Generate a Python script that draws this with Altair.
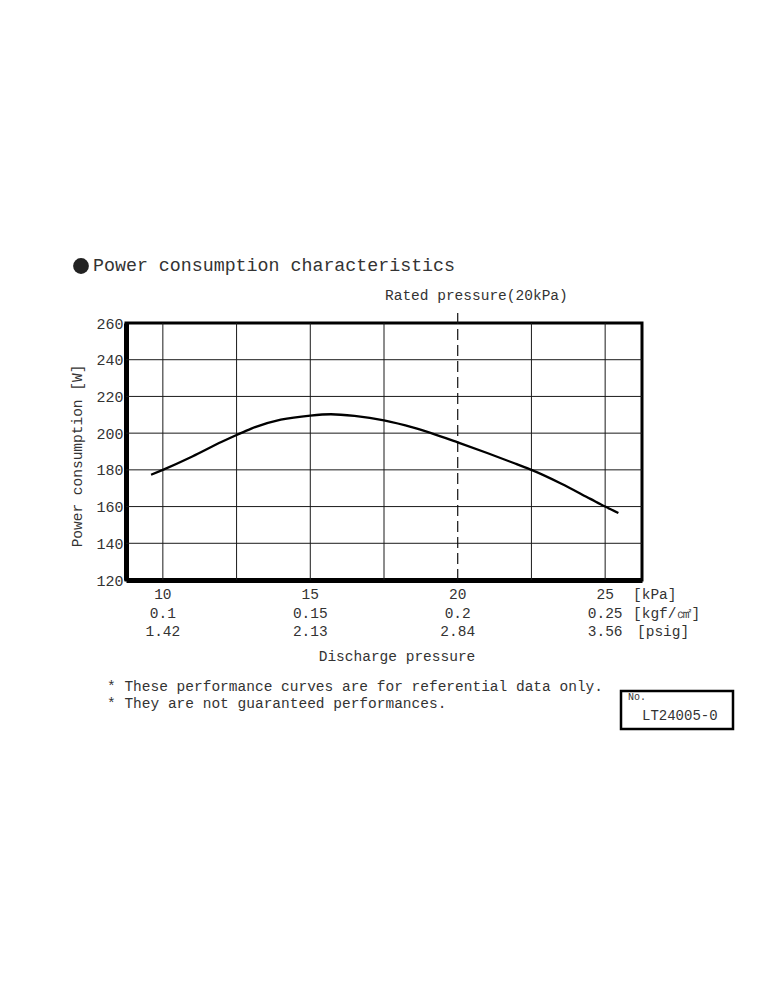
import altair as alt
import pandas as pd

# ---- data ----
pressure_kpa = [9.6, 10.0, 11.0, 12.0, 12.5, 13.0, 14.0, 15.0, 15.7, 16.5, 17.5, 18.5, 19.1, 20.0, 21.0, 22.0, 22.5, 23.5, 24.5, 25.0, 25.45]
power_w = [177.3, 180.0, 187.3, 195.3, 199.0, 202.5, 207.3, 209.6, 210.3, 209.4, 207.0, 203.0, 200.0, 195.0, 189.2, 183.1, 180.0, 172.6, 164.2, 160.0, 156.5]

x_grid = [10, 12.5, 15, 17.5, 22.5, 25]
y_grid = [140, 160, 180, 200, 220, 240]
y_ticks = [120, 140, 160, 180, 200, 220, 240, 260]
rated_kpa = [20]

kpa_labels = [10, 15, 20, 25]
kgf_labels = ["0.1", "0.15", "0.2", "0.25"]
psig_labels = ["1.42", "2.13", "2.84", "3.56"]
unit_labels = ["[kPa]", "[kgf/㎠]", "[psig]"]

FONT = "Liberation Mono"
TXT = "#333333"
W, H = 516, 257

xs = alt.Scale(domain=[8.75, 26.25], nice=False, zero=False)
ys = alt.Scale(domain=[120, 260], nice=False, zero=False)

curve_df = pd.DataFrame({"kpa": pressure_kpa, "w": power_w})
xg_df = pd.DataFrame({"kpa": x_grid})
yg_df = pd.DataFrame({"w": y_grid})
rated_df = pd.DataFrame({"kpa": rated_kpa})
rows_df = pd.DataFrame({
    "kpa": kpa_labels,
    "r1": [str(v) for v in kpa_labels],
    "r2": kgf_labels,
    "r3": psig_labels,
})

x_axis = alt.Axis(labels=False, ticks=False, grid=False, title=None, domainColor="black", domainWidth=5)
y_axis = alt.Axis(values=y_ticks, ticks=False, grid=False, title=None,
                  labelFont=FONT, labelFontSize=15, labelColor=TXT,
                  labelOverlap=False, labelFlush=False, labelBound=False,
                  labelPadding=3, domainColor="black", domainWidth=5)

hgrid = alt.Chart(yg_df).mark_rule(color="#1a1a1a", strokeWidth=1).encode(
    y=alt.Y("w:Q", scale=ys, axis=y_axis)
)
vgrid = alt.Chart(xg_df).mark_rule(color="#1a1a1a", strokeWidth=1).encode(
    x=alt.X("kpa:Q", scale=xs, axis=x_axis)
)
rated = alt.Chart(rated_df).mark_rule(color="#111111", strokeWidth=1.2, strokeDash=[11, 5]).encode(
    x=alt.X("kpa:Q", scale=xs, axis=x_axis), y=alt.value(-10), y2=alt.value(H)
)
curve = alt.Chart(curve_df).mark_line(color="black", strokeWidth=2.3, interpolate="monotone").encode(
    x=alt.X("kpa:Q", scale=xs, axis=x_axis), y=alt.Y("w:Q", scale=ys, axis=y_axis)
)

def row(field, ypix):
    return alt.Chart(rows_df).mark_text(font=FONT, fontSize=14.5, color=TXT, baseline="middle").encode(
        x=alt.X("kpa:Q", scale=xs, axis=x_axis), y=alt.value(ypix), text=f"{field}:N"
    )

r1 = row("r1", 272)
r2 = row("r2", 291)
r3 = row("r3", 309)

def label(txt, x, y, size=14.5, align="left", angle=0, color=TXT):
    return alt.Chart(pd.DataFrame({"t": [txt]})).mark_text(
        font=FONT, fontSize=size, color=color, align=align, baseline="middle", angle=angle
    ).encode(x=alt.value(x), y=alt.value(y), text="t:N")

u1 = label(unit_labels[0], 507, 272)
u2 = label(unit_labels[1], 507, 291)
u3 = label(unit_labels[2], 511, 309)

title_dot = alt.Chart(pd.DataFrame({"a": [0]})).mark_circle(color="#222222", opacity=1, size=250).encode(
    x=alt.value(-45), y=alt.value(-57)
)
title = label("Power consumption characteristics", -33, -57, size=18.3)
rated_txt = label("Rated pressure(20kPa)", 259, -27)
xtitle = label("Discharge pressure", 271, 334, align="center")
ytitle = label("Power consumption [W]", -48, 133, align="center", angle=270)
note1 = label("* These performance curves are for referential data only.", -19, 364)
note2 = label("* They are not guaranteed performances.", -19, 381)
no_txt = label("No.", 502, 374, size=10)
code_txt = label("LT24005-0", 516, 393, size=14)

box = alt.Chart(pd.DataFrame({"a": [0]})).mark_rect(fill=None, stroke="black", strokeWidth=2.5).encode(
    x=alt.value(495), x2=alt.value(607), y=alt.value(368), y2=alt.value(406)
)
edge = alt.Chart(pd.DataFrame({"a": [0]})).mark_rule(color="#dddddd", strokeWidth=1).encode(
    x=alt.value(643), y=alt.value(-88), y2=alt.value(442)
)

chart = alt.layer(
    hgrid, vgrid, rated, curve, r1, r2, r3, u1, u2, u3,
    title_dot, title, rated_txt, xtitle, ytitle, note1, note2, box, no_txt, code_txt, edge
).properties(
    width=W, height=H,
    autosize=alt.AutoSizeParams(type="none"),
    padding={"left": 118, "top": 315, "right": 121, "bottom": 412},
    background="white",
).configure_view(stroke="black", strokeWidth=3).configure_axis(labelOverlap=False)

chart.save("out.html", embed_options={"renderer": "svg", "actions": False})
